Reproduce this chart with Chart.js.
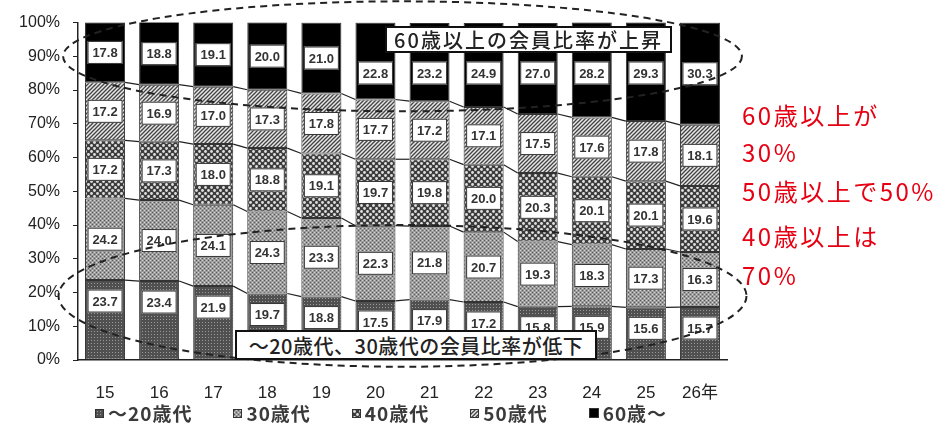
<!DOCTYPE html>
<html lang="ja">
<head>
<meta charset="utf-8">
<title>会員年齢構成の推移</title>
<script src="https://cdn.jsdelivr.net/npm/chart.js@4/dist/chart.umd.min.js"></script>
<style>
  html, body { margin: 0; padding: 0; background: #fff; }
  #wrap { position: relative; width: 947px; height: 426px; overflow: hidden; }
  #chart { position: absolute; left: 0; top: 0; }
  .note {
    position: absolute; box-sizing: border-box; background: #fff;
    border: 2px solid #111; color: #222;
    font-family: "Noto Sans CJK JP", sans-serif; font-size: 20px; font-weight: 500;
    display: flex; align-items: center; justify-content: center; white-space: nowrap;
  }
  .red {
    position: absolute; left: 742px; color: #e60012; white-space: nowrap;
    font-family: "Noto Sans CJK JP", sans-serif; font-size: 24px; line-height: 30px;
    letter-spacing: 2.5px;
  }
  #legend {
    position: absolute; left: 95px; top: 400px; display: flex; gap: 41px;
    font-family: "Noto Sans CJK JP", sans-serif; font-size: 19px; font-weight: 700;
    color: #3a3a3a; letter-spacing: 1px; line-height: 26px; white-space: nowrap;
  }
  #legend .item { display: flex; align-items: center; }
  #legend .sw {
    width: 9px; height: 9px; border: 1px solid #333; margin-right: 4px; box-sizing: border-box;
  }
</style>
</head>
<body>
<div id="wrap">
  <canvas id="chart" width="947" height="426"></canvas>
  <div class="note" id="noteUp" style="letter-spacing:2px">60歳以上の会員比率が上昇</div>
  <div class="note" id="noteDown" style="letter-spacing:0.5px">～20歳代、30歳代の会員比率が低下</div>
  <div class="red" style="top:100px">60歳以上が</div>
  <div class="red" style="top:137px">30%</div>
  <div class="red" style="top:176px">50歳以上で50%</div>
  <div class="red" style="top:221px">40歳以上は</div>
  <div class="red" style="top:260px">70%</div>
  <div id="legend"></div>
</div>
<script>
// 年度（平成）
const years = ['15', '16', '17', '18', '19', '20', '21', '22', '23', '24', '25', '26年'];
const seriesNames = ['～20歳代', '30歳代', '40歳代', '50歳代', '60歳～'];

// 年代別の会員構成比（%）
const under20s   = [23.7, 23.4, 21.9, 19.7, 18.8, 17.5, 17.9, 17.2, 15.8, 15.9, 15.6, 15.7];
const thirties   = [24.2, 24.0, 24.1, 24.3, 23.3, 22.3, 21.8, 20.7, 19.3, 18.3, 17.3, 16.3];
const forties    = [17.2, 17.3, 18.0, 18.8, 19.1, 19.7, 19.8, 20.0, 20.3, 20.1, 20.1, 19.6];
const fifties    = [17.2, 16.9, 17.0, 17.3, 17.8, 17.7, 17.2, 17.1, 17.5, 17.6, 17.8, 18.1];
const sixtiesUp  = [17.8, 18.8, 19.1, 20.0, 21.0, 22.8, 23.2, 24.9, 27.0, 28.2, 29.3, 30.3];

// callout boxes (pixel rectangles on the page)
const noteUpBox   = { left: 385, top: 26, width: 287, height: 27 };
const noteDownBox = { left: 235, top: 330, width: 362, height: 30 };
for (const [id, b] of [['noteUp', noteUpBox], ['noteDown', noteDownBox]]) {
  const el = document.getElementById(id);
  el.style.left = b.left + 'px'; el.style.top = b.top + 'px';
  el.style.width = b.width + 'px'; el.style.height = b.height + 'px';
}

// monochrome fill tiles
function tile(size, paint) {
  const c = document.createElement('canvas');
  c.width = size; c.height = size;
  paint(c.getContext('2d'));
  return c;
}
const tiles = [
  tile(3, g => { g.fillStyle = '#505050'; g.fillRect(0, 0, 3, 3); g.fillStyle = '#9a9a9a'; g.fillRect(1, 1, 1, 1); }),
  tile(4, g => {
    g.fillStyle = '#9c9c9c'; g.fillRect(0, 0, 4, 4);
    g.fillStyle = '#5a5a5a'; g.fillRect(0, 0, 1, 1); g.fillRect(2, 2, 1, 1);
    g.fillStyle = '#d4d4d4'; g.fillRect(2, 0, 1, 1); g.fillRect(0, 2, 1, 1);
  }),
  tile(6, g => {
    g.fillStyle = '#3c3c3c'; g.fillRect(0, 0, 6, 6);
    g.fillStyle = '#e0e0e0';
    g.beginPath(); g.arc(1.5, 1.5, 1.4, 0, Math.PI * 2); g.fill();
    g.beginPath(); g.arc(4.5, 4.5, 1.4, 0, Math.PI * 2); g.fill();
  }),
  tile(4, g => {
    g.fillStyle = '#e8e8e8'; g.fillRect(0, 0, 4, 4);
    g.strokeStyle = '#444'; g.lineWidth = 1.3;
    g.beginPath(); g.moveTo(-1, 5); g.lineTo(5, -1); g.stroke();
    g.beginPath(); g.moveTo(-1, 1); g.lineTo(1, -1); g.stroke();
    g.beginPath(); g.moveTo(3, 5); g.lineTo(5, 3); g.stroke();
  }),
  tile(2, g => { g.fillStyle = '#000'; g.fillRect(0, 0, 2, 2); })
];
const ctx = document.getElementById('chart').getContext('2d');
const fills = tiles.map(t => ctx.createPattern(t, 'repeat'));

// legend
const legend = document.getElementById('legend');
seriesNames.forEach((name, i) => {
  const item = document.createElement('div'); item.className = 'item';
  const sw = document.createElement('div'); sw.className = 'sw';
  sw.style.backgroundImage = 'url(' + tiles[i].toDataURL() + ')';
  if (i === 4) { sw.style.background = '#000'; sw.style.width = '10px'; sw.style.height = '10px'; }
  const tx = document.createElement('span'); tx.textContent = name;
  item.appendChild(sw); item.appendChild(tx); legend.appendChild(item);
});

const seriesValues = [under20s, thirties, forties, fifties, sixtiesUp];

// thin lines joining segment boundaries of neighbouring bars
const seriesLines = {
  id: 'seriesLines',
  afterDatasetsDraw(chart) {
    const g = chart.ctx;
    g.save();
    g.strokeStyle = '#222'; g.lineWidth = 1.2;
    for (let d = 0; d < 4; d++) {
      const els = chart.getDatasetMeta(d).data;
      for (let i = 0; i < els.length - 1; i++) {
        const a = els[i], b = els[i + 1];
        g.beginPath();
        g.moveTo(a.x + a.width / 2, a.y);
        g.lineTo(b.x - b.width / 2, b.y);
        g.stroke();
      }
    }
    g.restore();
  }
};

// boxed value labels on each segment
const valueLabels = {
  id: 'valueLabels',
  afterDatasetsDraw(chart) {
    const g = chart.ctx;
    const bw = 35, bh = 23;
    g.save();
    g.font = '600 13px "Liberation Sans", Arial, sans-serif';
    g.textAlign = 'center'; g.textBaseline = 'middle';
    chart.data.datasets.forEach((ds, d) => {
      chart.getDatasetMeta(d).data.forEach((el, i) => {
        const top = Math.max(el.y, chart.chartArea.top), bottom = el.base;
        let cy = (top + bottom) / 2;
        if (d === 0) cy = top + 21;
        if (d === 4) {
          const l = el.x - el.width / 2, r = el.x + el.width / 2;
          if (r > noteUpBox.left && l < noteUpBox.left + noteUpBox.width) {
            cy = Math.max(cy, noteUpBox.top + noteUpBox.height + 20);
          }
        }
        g.fillStyle = '#fff';
        g.fillRect(el.x - bw / 2, cy - bh / 2, bw, bh);
        g.strokeStyle = '#333'; g.lineWidth = 1;
        g.strokeRect(el.x - bw / 2 + 0.5, cy - bh / 2 + 0.5, bw - 1, bh - 1);
        g.fillStyle = '#333';
        g.fillText(ds.data[i].toFixed(1), el.x, cy + 1);
      });
    });
    g.restore();
  }
};

// dashed ellipses around the rising and falling groups
const dashedRings = {
  id: 'dashedRings',
  afterDraw(chart) {
    const g = chart.ctx, y = chart.scales.y, area = chart.chartArea;
    const cx = (area.left + area.right) / 2;
    const unit = Math.abs(y.getPixelForValue(0) - y.getPixelForValue(1));
    const rings = [
      { v: 90, rx: 0.523 * (area.right - area.left), ry: 16.3 * unit },
      { v: 19, rx: 0.53 * (area.right - area.left), ry: 21 * unit }
    ];
    g.save();
    g.strokeStyle = '#222'; g.lineWidth = 2; g.setLineDash([7, 5]);
    for (const r of rings) {
      g.beginPath();
      g.ellipse(cx, y.getPixelForValue(r.v), r.rx, r.ry, 0, 0, Math.PI * 2);
      g.stroke();
    }
    g.restore();
  }
};

new Chart(ctx, {
  type: 'bar',
  data: {
    labels: years,
    datasets: seriesNames.map((name, i) => ({
      label: name,
      data: seriesValues[i],
      backgroundColor: fills[i],
      borderColor: '#333',
      borderWidth: 1,
      borderSkipped: false,
      barPercentage: 0.74,
      categoryPercentage: 1
    }))
  },
  options: {
    responsive: false,
    animation: false,
    layout: { padding: { left: 0, top: 16, right: 220, bottom: 0 } },
    plugins: { legend: { display: false }, tooltip: { enabled: false } },
    scales: {
      x: {
        stacked: true,
        afterFit: s => { s.height = 66; },
        grid: { display: false },
        border: { display: true, color: '#222', width: 1.5 },
        ticks: { color: '#222', padding: 15, font: { family: '"Liberation Sans", "Noto Sans CJK JP", sans-serif', size: 17 } }
      },
      y: {
        stacked: true,
        min: 0, max: 100,
        afterFit: s => { s.width = 78; },
        grid: { drawOnChartArea: false, tickLength: 5, color: '#222' },
        border: { display: true, color: '#222', width: 1.5 },
        ticks: {
          stepSize: 10, color: '#222', padding: 13,
          font: { family: '"Liberation Sans", sans-serif', size: 16 },
          callback: v => v + '%'
        }
      }
    }
  },
  plugins: [seriesLines, valueLabels, dashedRings]
});
</script>
</body>
</html>
